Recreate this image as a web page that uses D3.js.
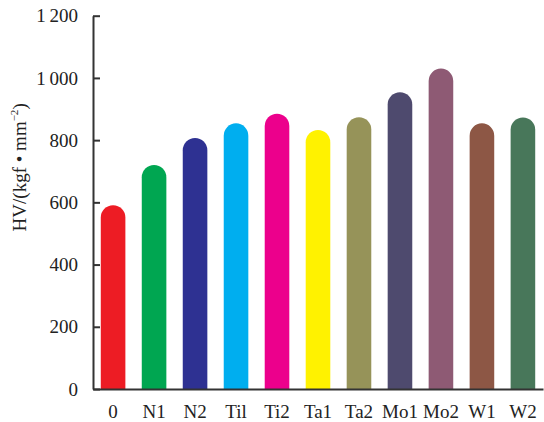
<!DOCTYPE html>
<html>
<head>
<meta charset="utf-8">
<script src="https://cdn.jsdelivr.net/npm/d3@7"></script>
<style>
  body { margin: 0; background: #fff; }
  svg text { font-family: "Liberation Serif", "DejaVu Serif", serif; fill: #222; }
</style>
</head>
<body>
<div id="chart"></div>
<script>
// Hardness per sample
const samples = ['0', 'N1', 'N2', 'Til', 'Ti2', 'Ta1', 'Ta2', 'Mo1', 'Mo2', 'W1', 'W2'];
const hardness = [591, 720, 807, 854, 885, 833, 874, 954, 1030, 854, 873];
const barColors = ['#ed1c24', '#00a651', '#2e3192', '#00aeef', '#ec008c', '#fff200',
                   '#969359', '#4e4a6e', '#8e5a74', '#8d5745', '#48775a'];
const yTicks = [0, 200, 400, 600, 800, 1000, 1200];

const width = 544, height = 422;
const margin = { top: 15.7, right: 1, bottom: 33, left: 93 };

const svg = d3.select('#chart').append('svg')
    .attr('width', width)
    .attr('height', height);

const x = d3.scaleBand()
    .domain(samples)
    .range([margin.left, width - margin.right])
    .paddingInner(0.4)
    .paddingOuter(0.19);

const y = d3.scaleLinear()
    .domain([0, 1200])
    .range([height - margin.bottom, margin.top]);

// thousands separated by a space, e.g. "1 200"
const fmt = d => d >= 1000 ? Math.floor(d / 1000) + '\u2009' + String(d % 1000).padStart(3, '0') : String(d);

// Bars with rounded tops
const bw = x.bandwidth();
const r = bw / 2;
svg.append('g').selectAll('path')
    .data(samples)
    .join('path')
    .attr('fill', (d, i) => barColors[i])
    .attr('d', (d, i) => {
        const x0 = x(d), y0 = y(hardness[i]), yb = y(0);
        return `M${x0},${yb} L${x0},${y0 + r} A${r},${r} 0 0 1 ${x0 + bw},${y0 + r} L${x0 + bw},${yb} Z`;
    });

// Y axis, ticks pointing inward
const yAxis = svg.append('g')
    .attr('transform', `translate(${margin.left},0)`)
    .call(d3.axisLeft(y).tickValues(yTicks).tickFormat(fmt)
        .tickSizeInner(-7).tickSizeOuter(0).tickPadding(15));
yAxis.select('.domain').attr('stroke', '#333').attr('stroke-width', 2);
yAxis.selectAll('.tick line').attr('stroke', '#333').attr('stroke-width', 2);
yAxis.selectAll('.tick text').attr('font-size', 19).attr('fill', '#222');

// X axis (baseline + labels)
const xAxis = svg.append('g')
    .attr('transform', `translate(0,${y(0)})`)
    .call(d3.axisBottom(x).tickSize(0).tickPadding(16));
xAxis.select('.domain').attr('stroke', '#333').attr('stroke-width', 2);
xAxis.selectAll('.tick text').attr('font-size', 19).attr('fill', '#222');

// Y title
const title = svg.append('text')
    .attr('transform', `translate(26,${(y(0) + y(1200)) / 2 - 35}) rotate(-90)`)
    .attr('text-anchor', 'middle')
    .attr('font-size', 19);
title.append('tspan').text('HV/(kgf \u2022 mm');
title.append('tspan').attr('font-size', 11).attr('dy', -8).text('\u22122');
title.append('tspan').attr('dy', 8).text(')');
</script>
</body>
</html>
